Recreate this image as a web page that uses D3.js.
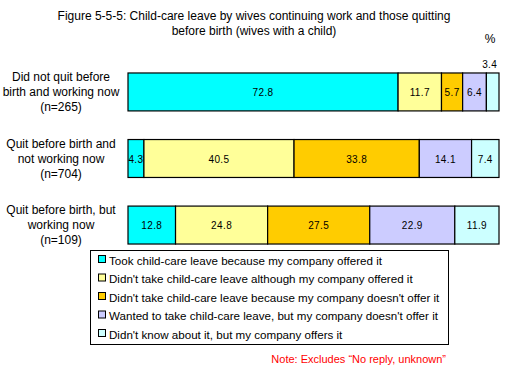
<!DOCTYPE html>
<html>
<head>
<meta charset="utf-8">
<script src="https://cdn.jsdelivr.net/npm/d3@7"></script>
<style>
  body { margin: 0; background: #fff; }
  svg text { font-family: "Liberation Sans", Arial, sans-serif; fill: #000; }
</style>
</head>
<body>
<div id="chart"></div>
<script>
// chart values
const groups = ["Did not quit before birth and working now (n=265)",
                "Quit before birth and not working now (n=704)",
                "Quit before birth, but working now (n=109)"];
const groupLines = [["Did not quit before", "birth and working now", "(n=265)"],
                    ["Quit before birth and", "not working now", "(n=704)"],
                    ["Quit before birth, but", "working now", "(n=109)"]];
const answers = ["Took child-care leave because my company offered it",
                 "Didn't take child-care leave although my company offered it",
                 "Didn't take child-care leave because my company doesn't offer it",
                 "Wanted to take child-care leave, but my company doesn't offer it",
                 "Didn't know about it, but my company offers it"];
const tookLeave   = [72.8, 4.3, 12.8];
const didntTake   = [11.7, 40.5, 24.8];
const notOffered  = [5.7, 33.8, 27.5];
const wanted      = [6.4, 14.1, 22.9];
const didntKnow   = [3.4, 7.4, 11.9];
const colors = ["#00FFFF", "#FFFF99", "#FFCC00", "#CCCCFF", "#CCFFFF"];

const width = 512, height = 368;
const svg = d3.select("#chart").append("svg")
    .attr("width", width).attr("height", height);

const rows = groups.map((g, i) => ({
  group: g, a0: tookLeave[i], a1: didntTake[i], a2: notOffered[i], a3: wanted[i], a4: didntKnow[i]
}));
const keys = ["a0", "a1", "a2", "a3", "a4"];
const series = d3.stack().keys(keys).offset(d3.stackOffsetExpand)(rows);

const x = d3.scaleLinear().domain([0, 1]).range([128, 499]);
const y = d3.scaleBand().domain(groups).range([61, 256]).paddingInner(0.43).paddingOuter(0.18);

// title
const title = svg.append("text").attr("x", 254).attr("y", 20)
    .attr("text-anchor", "middle").style("font-size", "12px");
title.append("tspan").attr("x", 254).text("Figure 5-5-5: Child-care leave by wives continuing work and those quitting");
title.append("tspan").attr("x", 254).attr("dy", 15).text("before birth (wives with a child)");

svg.append("text").attr("x", 490).attr("y", 43).attr("text-anchor", "middle")
   .style("font-size", "12px").text("%");

// bars
const layer = svg.selectAll("g.layer").data(series).join("g")
    .attr("class", "layer").attr("fill", (d, i) => colors[i]);

layer.selectAll("rect").data(d => d.map(p => ({p, key: d.key}))).join("rect")
    .attr("x", d => x(d.p[0]))
    .attr("y", d => y(d.p.data.group))
    .attr("width", d => x(d.p[1]) - x(d.p[0]))
    .attr("height", y.bandwidth())
    .attr("stroke", "#000").attr("stroke-width", 1.2);

// segment labels
layer.selectAll("text").data(d => d.map(p => ({p, key: d.key}))).join("text")
    .attr("x", d => (x(d.p[0]) + x(d.p[1])) / 2 - (x(d.p[1]) - x(d.p[0]) < 14 ? 3 : 0))
    .attr("y", d => x(d.p[1]) - x(d.p[0]) < 14
        ? y(d.p.data.group) - 5
        : y(d.p.data.group) + y.bandwidth() / 2 + 4)
    .attr("text-anchor", "middle")
    .style("font-size", "10px")
    .style("letter-spacing", "0.4px")
    .text(d => d.p.data[d.key].toFixed(1));

// category labels
groups.forEach((g, i) => {
  const t = svg.append("text").attr("text-anchor", "middle").style("font-size", "12px");
  groupLines[i].forEach((line, j) => {
    t.append("tspan").attr("x", 61)
     .attr("y", y(g) + y.bandwidth() / 2 + 4 + (j - 1) * 15)
     .text(line);
  });
});

// legend
const lg = svg.append("g");
lg.append("rect").attr("x", 90.5).attr("y", 250.5).attr("width", 358).attr("height", 94)
  .attr("fill", "#fff").attr("stroke", "#000");
const ly = d3.scalePoint().domain(answers).range([260, 334]);
answers.forEach((a, i) => {
  lg.append("rect").attr("x", 98.5).attr("y", ly(a) - 4.5).attr("width", 7).attr("height", 7)
    .attr("fill", colors[i]).attr("stroke", "#000");
  lg.append("text").attr("x", 109).attr("y", ly(a) + 4.5).style("font-size", "11.6px").text(a);
});

svg.append("text").attr("x", 446).attr("y", 363).attr("text-anchor", "end")
   .style("font-size", "11px").style("fill", "#FF0000")
   .text("Note:  Excludes \u201CNo reply, unknown\u201D");
</script>
</body>
</html>
